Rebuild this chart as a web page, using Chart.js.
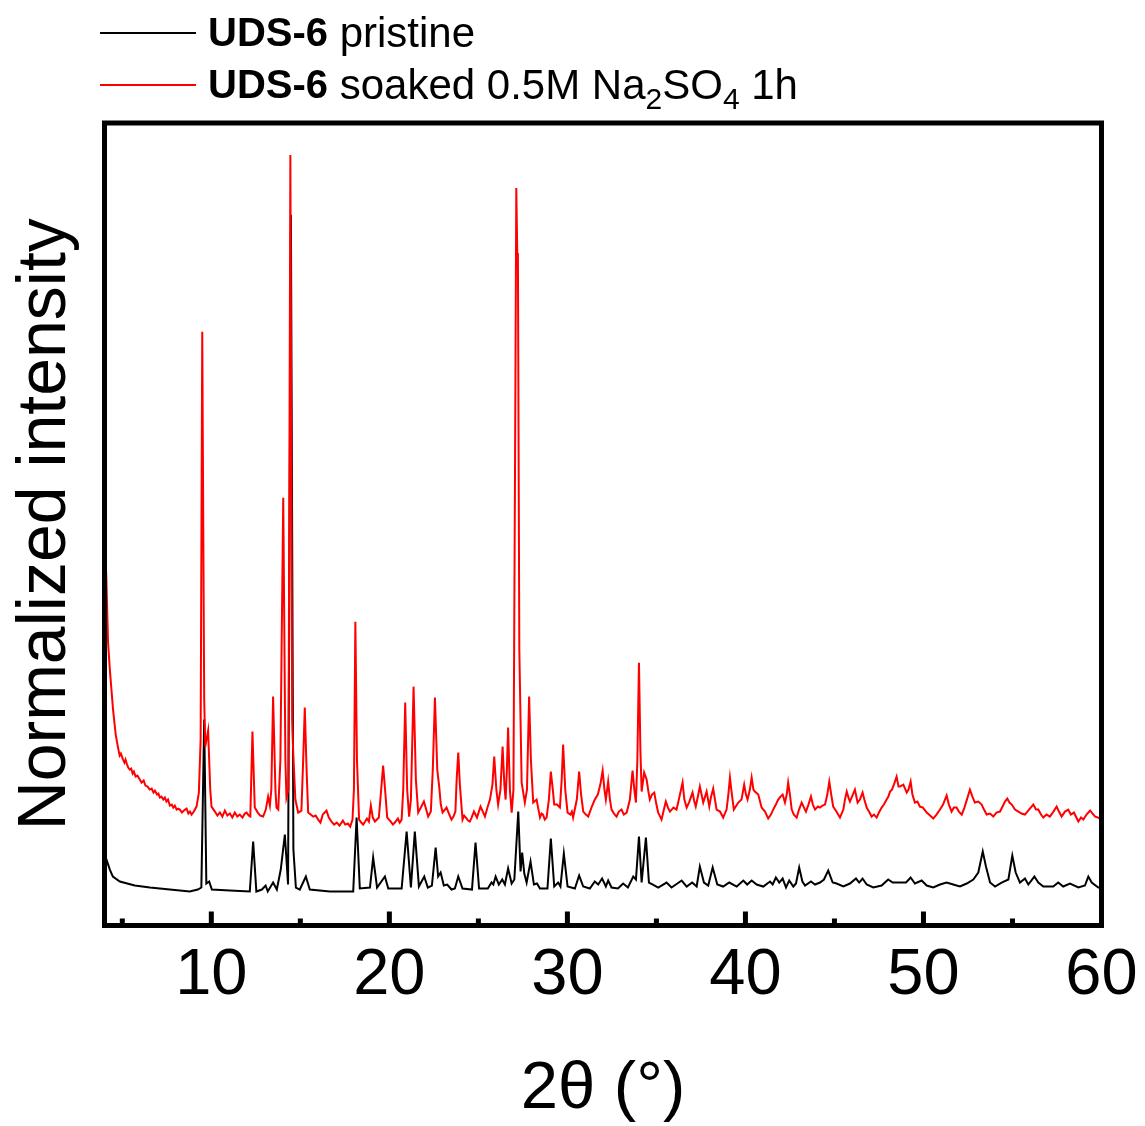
<!DOCTYPE html>
<html>
<head>
<meta charset="utf-8">
<script src="https://cdn.jsdelivr.net/npm/chart.js@4.4.1/dist/chart.umd.min.js"></script>
<style>
  html, body { margin: 0; padding: 0; background: #fff; }
  canvas { display: block; }
</style>
</head>
<body>
<canvas id="xrd" width="1145" height="1126"></canvas>
<script>
// 2θ (degrees) and offset intensity (arbitrary units), pristine UDS-6
const pristine = [
  [4.00,72],[4.11,66],[4.30,56],[4.47,49],[4.86,44],[5.70,40],[6.55,38],[7.67,36],[8.79,34],[9.24,36],
  [9.44,38],[9.60,206],[9.72,42],[9.88,44],[10.03,36],[11.04,35],[12.16,34],[12.35,84],[12.53,34],[12.84,36],
  [13.05,40],[13.17,34],[13.47,43],[13.68,36],[13.90,56],[14.13,91],[14.31,41],[14.47,711],[14.61,76],[14.75,38],
  [14.97,36],[15.31,49],[15.53,36],[16.66,34],[17.97,34],[18.16,108],[18.34,37],[18.91,38],[19.09,68],[19.31,38],
  [19.75,49],[19.94,37],[20.69,37],[20.97,94],[21.21,38],[21.43,94],[21.66,39],[21.96,49],[22.16,38],[22.39,40],
  [22.60,78],[22.74,49],[22.88,53],[23.06,40],[23.25,41],[23.49,36],[23.68,37],[23.87,49],[24.11,37],[24.64,36],
  [24.84,83],[25.04,37],[25.53,37],[25.74,43],[25.84,41],[25.97,49],[26.15,41],[26.34,46],[26.49,41],[26.67,57],
  [26.87,42],[27.02,46],[27.24,114],[27.37,54],[27.46,73],[27.58,52],[27.71,43],[27.93,64],[28.12,41],[28.29,42],
  [28.46,37],[28.88,37],[29.07,87],[29.26,39],[29.48,43],[29.61,39],[29.80,72],[30.01,39],[30.42,37],[30.66,50],
  [30.89,39],[31.26,37],[31.54,44],[31.73,41],[31.95,47],[32.16,39],[32.29,45],[32.48,38],[32.84,37],[33.13,42],
  [33.40,38],[33.70,49],[33.85,46],[34.02,89],[34.17,43],[34.41,88],[34.58,43],[34.80,41],[35.10,38],[35.57,43],
  [35.85,38],[36.42,45],[36.70,39],[37.01,43],[37.26,39],[37.44,59],[37.67,43],[37.91,40],[38.16,58],[38.42,41],
  [38.75,39],[39.09,43],[39.51,39],[39.88,45],[40.10,41],[40.35,45],[40.63,41],[41.00,39],[41.38,44],[41.53,41],
  [41.71,48],[41.90,43],[42.09,47],[42.28,38],[42.46,45],[42.69,39],[42.84,42],[43.02,58],[43.20,44],[43.35,40],
  [43.68,44],[43.91,41],[44.19,43],[44.41,46],[44.65,55],[44.90,43],[45.12,42],[45.50,39],[45.87,42],[46.21,47],
  [46.39,43],[46.58,47],[46.81,41],[47.18,38],[47.65,40],[48.02,46],[48.27,43],[48.68,43],[49.02,43],[49.28,48],
  [49.52,42],[49.90,45],[50.18,40],[50.55,38],[50.93,41],[51.30,43],[51.67,41],[52.05,39],[52.43,42],[52.80,46],
  [53.08,53],[53.33,74],[53.51,59],[53.74,43],[54.02,39],[54.39,43],[54.77,46],[54.99,70],[55.18,53],[55.42,43],
  [55.70,47],[55.89,41],[56.23,49],[56.45,43],[56.73,39],[57.29,39],[57.57,43],[57.85,39],[58.23,42],[58.70,38],
  [59.07,40],[59.26,49],[59.45,43],[59.82,38],[60.00,38]
];

// 2θ (degrees) and offset intensity (arbitrary units), after soaking in 0.5 M Na2SO4 for 1 h
const soaked = [
  [4.00,390],[4.10,350],[4.20,283],[4.30,256],[4.48,216],[4.63,191],[4.76,178],[4.85,170],[4.92,172],[5.04,166],
  [5.12,163],[5.18,166],[5.25,162],[5.33,158],[5.42,156],[5.50,157],[5.58,152],[5.65,154],[5.75,149],[5.85,150],
  [5.98,146],[6.08,143],[6.20,145],[6.30,140],[6.42,139],[6.54,136],[6.65,137],[6.75,133],[6.83,135],[6.95,131],
  [7.03,132],[7.11,128],[7.20,129],[7.30,126],[7.39,128],[7.48,124],[7.57,126],[7.67,120],[7.78,121],[7.86,118],
  [7.95,120],[8.05,116],[8.14,117],[8.23,116],[8.35,113],[8.46,115],[8.61,117],[8.71,112],[8.80,114],[8.89,111],
  [9.02,114],[9.17,119],[9.30,133],[9.40,186],[9.49,594],
  [9.60,226],[9.66,179],[9.82,195],[9.94,136],[10.01,119],[10.20,114],[10.34,110],[10.48,113],[10.62,109],[10.76,115],
  [10.90,110],[11.04,112],[11.18,108],[11.32,113],[11.46,109],[11.60,111],[11.75,108],[11.88,112],[11.98,113],[12.10,110],
  [12.19,109],[12.31,194],[12.44,118],[12.61,113],[12.75,110],[12.91,109],[13.06,116],[13.19,129],[13.29,120],
  [13.37,136],[13.47,229],[13.60,136],[13.66,118],[13.76,116],[13.88,166],[14.04,428],[14.16,166],[14.22,128],[14.33,136],
  [14.44,771],[14.54,206],[14.60,173],[14.72,126],[14.88,113],[15.06,115],[15.16,166],[15.25,218],[15.35,156],[15.44,113],
  [15.58,111],[15.72,109],[15.86,110],[16.00,106],[16.13,103],[16.26,111],[16.47,115],[16.60,108],[16.75,104],[16.90,101],
  [17.05,103],[17.20,100],[17.39,105],[17.52,101],[17.67,102],[17.80,99],[17.93,106],
  [18.01,136],[18.09,304],[18.18,166],[18.30,106],[18.42,103],[18.53,101],[18.64,104],[18.74,107],[18.85,104],[18.96,120],
  [19.07,108],[19.19,104],
  [19.41,108],[19.54,136],[19.65,160],[19.76,136],[19.88,108],[20.08,104],[20.20,101],[20.31,103],[20.48,107],[20.58,103],
  [20.69,106],[20.78,136],
  [20.89,223],[21.00,136],[21.11,109],[21.21,126],[21.36,239],[21.49,146],[21.62,113],[21.77,118],[21.94,124],[22.07,116],
  [22.18,109],[22.33,114],[22.44,156],[22.56,228],[22.69,156],[22.80,139],[22.89,121],[22.99,113],[23.21,118],[23.37,111],
  [23.49,106],[23.60,109],[23.71,114],[23.78,146],[23.87,173],[23.96,141],[24.11,106],[24.20,110],[24.30,108],[24.42,105],
  [24.52,104],[24.62,108],[24.75,114],[24.92,108],
  [25.12,119],[25.25,114],[25.37,109],[25.51,118],[25.65,126],[25.79,141],[25.89,169],[26.01,136],[26.11,121],[26.24,136],
  [26.36,179],[26.46,141],[26.53,126],[26.60,156],[26.67,198],[26.77,136],[26.87,113],[26.97,136],[27.05,426],[27.13,738],
  [27.19,666],[27.22,673],[27.30,276],[27.43,143],[27.61,123],[27.73,136],[27.85,229],[27.95,166],[28.08,123],[28.27,126],
  [28.46,108],[28.55,112],[28.63,111],[28.73,106],[28.83,108],[28.96,126],[29.07,154],[29.18,136],[29.26,121],[29.41,121],
  [29.58,118],[29.68,146],
  [29.76,181],[29.88,136],[30.01,113],[30.17,111],[30.25,114],[30.32,108],[30.53,126],[30.66,154],[30.77,131],[30.89,114],
  [31.04,111],[31.17,109],[31.35,118],[31.54,126],[31.71,131],[31.85,141],[31.98,155],[32.08,136],[32.16,126],[32.29,144],
  [32.39,126],[32.48,116],[32.62,112],[32.76,109],[32.89,114],[33.04,116],[33.17,111],[33.33,113],[33.51,126],[33.66,155],
  [33.76,136],[33.85,123],
  [33.93,166],[34.02,263],[34.10,176],[34.17,134],[34.31,153],[34.45,146],[34.55,134],[34.63,126],[34.75,131],[34.88,133],
  [35.00,121],[35.10,113],[35.29,106],[35.42,116],[35.53,124],[35.65,118],[35.76,114],[35.96,118],[36.13,116],[36.26,126],
  [36.47,143],[36.57,126],[36.70,118],[36.85,124],[37.03,133],[37.13,124],[37.21,119],[37.33,129],[37.44,139],[37.63,123],
  [37.82,134],[37.97,119],[38.06,128],[38.19,137],[38.38,116],[38.57,114],[38.75,108],[38.94,116],[39.04,131],[39.13,148],
  [39.24,131],[39.35,116],[39.60,123],[39.78,126],[39.93,141],[40.03,131],[40.12,126],[40.25,136],[40.35,148],[40.45,136],
  [40.53,134],[40.72,131],[40.91,118],[41.10,114],[41.28,107],[41.43,111],[41.56,116],[41.71,121],[41.84,126],[41.97,129],
  [42.09,131],[42.22,123],[42.32,131],[42.40,143],[42.50,131],[42.60,116],[42.72,111],[42.88,108],[43.01,116],[43.16,123],
  [43.29,118],[43.40,114],[43.54,121],[43.68,129],[43.79,121],[43.91,116],[44.07,119],[44.19,118],[44.33,120],[44.47,121],
  [44.60,131],[44.71,144],[44.82,131],[44.93,119],[45.11,114],[45.31,108],[45.50,116],[45.59,126],[45.69,134],[45.79,128],
  [45.87,124],[46.01,130],[46.15,136],[46.30,123],[46.43,126],[46.58,133],[46.68,126],[46.81,118],[46.94,114],[47.09,109],
  [47.22,111],[47.37,108],[47.50,113],[47.65,118],[47.78,121],[47.93,126],[48.03,129],[48.12,134],[48.23,136],[48.34,141],
  [48.49,149],[48.60,139],[48.68,139],[48.87,141],[49.06,133],[49.16,136],[49.28,144],[49.38,131],[49.52,123],[49.66,124],
  [49.80,119],[49.97,118],[50.18,113],[50.37,110],[50.55,107],[50.73,111],[50.93,116],[51.10,121],[51.30,130],[51.43,121],
  [51.58,114],[51.71,118],[51.86,118],[51.99,114],[52.15,111],[52.30,118],[52.44,126],[52.61,136],[52.75,129],[52.89,123],
  [53.08,124],[53.27,121],[53.40,116],[53.55,111],[53.74,112],[53.92,109],[54.10,113],[54.30,114],[54.47,120],[54.58,124],
  [54.71,127],[54.83,123],[54.96,121],[55.14,116],[55.33,114],[55.51,112],[55.70,111],[55.93,116],[56.17,121],[56.32,116],
  [56.45,116],[56.60,111],[56.73,108],[56.91,111],[57.10,109],[57.30,114],[57.48,119],[57.61,114],[57.76,109],[57.95,114],
  [58.13,116],[58.28,111],[58.45,113],[58.70,104],[58.85,108],[58.98,106],[59.16,111],[59.36,115],[59.50,112],[59.64,109],
  [59.81,108],[60.00,106]
];

const majorTicks = [10, 20, 30, 40, 50, 60];
const minorTicks = [5, 15, 25, 35, 45, 55];
const xRange = [4, 60];
const yRange = [0, 803];

const seriesColors = ['#000000', '#ff0000'];
// legend entries as runs of text: bold sample name, then description (sub = subscript)
const legendEntries = [
  [{t: 'UDS-6', bold: true}, {t: ' pristine'}],
  [{t: 'UDS-6', bold: true}, {t: ' soaked 0.5M Na'}, {t: '2', sub: true}, {t: 'SO'}, {t: '4', sub: true}, {t: ' 1h'}]
];
const seriesLabels = ['UDS-6 pristine', 'UDS-6 soaked 0.5M Na2SO4 1h'];

const FONT = '"Liberation Sans", Arial, Helvetica, sans-serif';

// heavy box around the plot area and inward ticks on the bottom axis
const framePlugin = {
  id: 'frame',
  afterDatasetsDraw(chart) {
    const {ctx, chartArea: a, scales: {x}} = chart;
    ctx.save();
    ctx.strokeStyle = '#000';
    ctx.lineWidth = 5;
    ctx.strokeRect(a.left, a.top, a.right - a.left, a.bottom - a.top);
    ctx.fillStyle = '#000';
    majorTicks.forEach(v => {
      const px = x.getPixelForValue(v);
      ctx.fillRect(px - 2.5, a.bottom - 14, 5, 14);
    });
    minorTicks.forEach(v => {
      const px = x.getPixelForValue(v);
      ctx.fillRect(px - 2.5, a.bottom - 7, 5, 7);
    });
    ctx.restore();
  }
};

// legend above the plot with bold names and chemical subscripts
const legendPlugin = {
  id: 'richLegend',
  afterDraw(chart) {
    const ctx = chart.ctx;
    const rows = [33, 85];
    ctx.save();
    ctx.textBaseline = 'middle';
    legendEntries.forEach((parts, i) => {
      const y = rows[i];
      ctx.strokeStyle = seriesColors[i];
      ctx.lineWidth = 2;
      ctx.beginPath();
      ctx.moveTo(100, y);
      ctx.lineTo(196, y);
      ctx.stroke();
      let x = 208;
      ctx.fillStyle = '#000';
      parts.forEach(p => {
        const size = p.sub ? 30 : (p.bold ? 40 : 42);
        ctx.font = (p.bold ? 'bold ' : '') + size + 'px ' + FONT;
        ctx.fillText(p.t, x, y + 2 + (p.sub ? 14 : 0));
        x += ctx.measureText(p.t).width;
      });
    });
    ctx.restore();
  }
};

const toPoints = arr => arr.map(([x, y]) => ({x, y}));

new Chart(document.getElementById('xrd'), {
  type: 'line',
  data: {
    datasets: [
      {label: seriesLabels[0], data: toPoints(pristine), borderColor: seriesColors[0], borderWidth: 2,
       pointRadius: 0, tension: 0, fill: false, order: 1},
      {label: seriesLabels[1], data: toPoints(soaked), borderColor: seriesColors[1], borderWidth: 2,
       pointRadius: 0, tension: 0, fill: false, order: 0}
    ]
  },
  options: {
    responsive: false,
    animation: false,
    devicePixelRatio: 1,
    layout: {padding: {top: 123, right: 43.5, left: 0, bottom: 0}},
    plugins: {legend: {display: false}, tooltip: {enabled: false}},
    scales: {
      x: {
        type: 'linear', min: xRange[0], max: xRange[1],
        grid: {display: false, drawTicks: false},
        border: {display: false},
        afterBuildTicks: s => { s.ticks = majorTicks.map(v => ({value: v})); },
        afterFit: s => { s.height = 200.5; s.paddingLeft = 0; s.paddingRight = 0; },
        ticks: {font: {family: FONT, size: 65}, color: '#000', padding: 12, maxRotation: 0, autoSkip: false},
        title: {display: true, text: '2θ (°)', font: {family: FONT, size: 67}, color: '#000', padding: {top: 0, bottom: -4}}
      },
      y: {
        type: 'linear', min: yRange[0], max: yRange[1],
        grid: {display: false, drawTicks: false},
        border: {display: false},
        ticks: {display: false},
        afterFit: s => { s.width = 104.5; },
        title: {display: true, text: 'Normalized intensity', font: {family: FONT, size: 68}, color: '#000', padding: {top: 5, bottom: 0}}
      }
    }
  },
  plugins: [framePlugin, legendPlugin]
});
</script>
</body>
</html>
